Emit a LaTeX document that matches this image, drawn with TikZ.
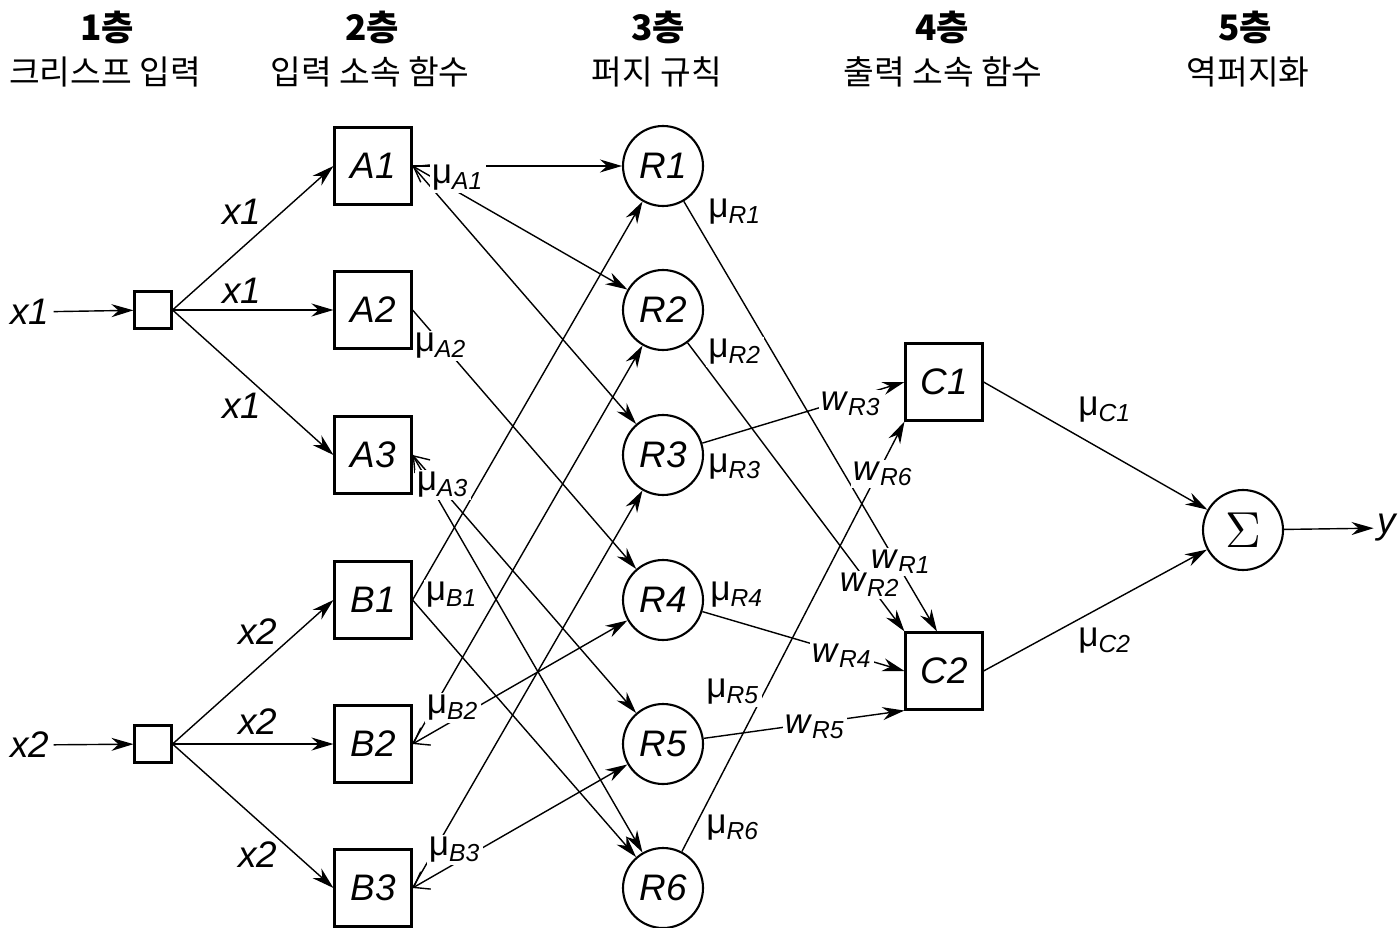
\documentclass[tikz,border=0pt]{standalone}
\usepackage{fontspec}
\setmainfont{Liberation Sans}
\newfontfamily\krfont{Noto Sans CJK KR}
\usetikzlibrary{arrows.meta}

% membership grade and rule weight labels
\newcommand{\memb}[1]{μ\textsubscript{\itshape #1}}
\newcommand{\wgt}[1]{\textit{w}\textsubscript{\itshape #1}}

\begin{document}
\begin{tikzpicture}[
    membox/.style={draw,semithick,minimum size=0.77cm,inner sep=0pt,font=\fontsize{10.5}{12}\selectfont\itshape},
    inbox/.style={draw,semithick,minimum size=0.37cm,inner sep=0pt},
    rulenode/.style={draw,semithick,circle,minimum size=0.80cm,inner sep=0pt,font=\fontsize{10.5}{12}\selectfont\itshape},
    varlabel/.style={inner sep=1pt,font=\fontsize{10.5}{12}\selectfont\itshape},
    mulabel/.style={fill=white,inner sep=0.6pt,font=\fontsize{10}{12}\selectfont},
    layernum/.style={font=\krfont\bfseries\fontsize{10}{12}\selectfont},
    layername/.style={font=\krfont\fontsize{9.5}{11}\selectfont},
    link/.style={thin,-{Stealth[length=2.2mm,width=1.3mm]}},
    blink/.style={thin,{Straight Barb[length=1.4mm,width=2mm]}-{Stealth[length=2.2mm,width=1.3mm]}}
]
    \useasboundingbox (0,0) rectangle (13.98,-9.27);

    % Layer titles
    \node[layernum] (n1) at (1.07,-0.27) {1층};
    \node[layernum] (n2) at (3.72,-0.27) {2층};
    \node[layernum] (n3) at (6.58,-0.27) {3층};
    \node[layernum] (n4) at (9.42,-0.27) {4층};
    \node[layernum] (n5) at (12.45,-0.27) {5층};
    \node[layername] (t1) at (1.05,-0.72) {크리스프 입력};
    \node[layername] (t2) at (3.70,-0.72) {입력 소속 함수};
    \node[layername] (t3) at (6.57,-0.72) {퍼지 규칙};
    \node[layername] (t4) at (9.43,-0.72) {출력 소속 함수};
    \node[layername] (t5) at (12.48,-0.72) {역퍼지화};

    % Layer 1: crisp inputs
    \node[varlabel] (x1) at (0.30,-3.12) {x1};
    \node[varlabel] (x2) at (0.30,-7.45) {x2};
    \node[inbox] (in1) at (1.53,-3.10) {};
    \node[inbox] (in2) at (1.53,-7.44) {};

    % Layer 2: input membership functions
    \node[membox] (A1) at (3.73,-1.66) {A1};
    \node[membox] (A2) at (3.73,-3.10) {A2};
    \node[membox] (A3) at (3.73,-4.55) {A3};
    \node[membox] (B1) at (3.73,-6.00) {B1};
    \node[membox] (B2) at (3.73,-7.44) {B2};
    \node[membox] (B3) at (3.73,-8.88) {B3};

    % Layer 3: fuzzy rules
    \foreach \i/\y in {1/1.66,2/3.10,3/4.55,4/6.00,5/7.44,6/8.88}
        \node[rulenode] (R\i) at (6.63,-\y) {R\i};

    % Layer 4: output membership functions
    \node[membox] (C1) at (9.44,-3.82) {C1};
    \node[membox] (C2) at (9.44,-6.71) {C2};

    % Layer 5: defuzzification
    \node[rulenode,font=\fontsize{15}{18}\selectfont] (sum) at (12.43,-5.30) {$\Sigma$};
    \node[varlabel] (y) at (13.87,-5.28) {y};

    % Inputs to layer 2
    \draw[link] (x1) -- (in1);
    \draw[link] (x2) -- (in2);
    \foreach \n in {A1,A2,A3} \draw[link] (in1.east) -- (\n.west);
    \foreach \n in {B1,B2,B3} \draw[link] (in2.east) -- (\n.west);

    % Layer 2 to rules
    \draw[link] (A1.east) -- (R1);
    \draw[blink] (A1.east) -- (R2);
    \draw[link] (A1.east) -- (R3);
    \draw[link] (A2.east) -- (R4);
    \draw[blink] (A3.east) -- (R5);
    \draw[link] (A3.east) -- (R6);
    \draw[link] (B1.east) -- (R1);
    \draw[link] (B1.east) -- (R6);
    \draw[link] (B2.east) -- (R2);
    \draw[blink] (B2.east) -- (R4);
    \draw[link] (B3.east) -- (R3);
    \draw[blink] (B3.east) -- (R5);

    % Rules to layer 4
    \draw[link] (R1) -- ([xshift=-0.07cm]C2.north);
    \draw[link] (R2) -- (C2.north west);
    \draw[link] (R3) -- (C1.west);
    \draw[link] (R4) -- (C2.west);
    \draw[link] (R5) -- (C2.south west);
    \draw[link] (R6) -- (C1.south west);

    % Layer 4 to output
    \draw[link] (C1.east) -- (sum);
    \draw[link] (C2.east) -- (sum);
    \draw[link] (sum) -- (y);

    % Input labels
    \node[varlabel] (ia1) at (2.42,-2.12) {x1};
    \node[varlabel] (ia2) at (2.42,-2.91) {x1};
    \node[varlabel] (ia3) at (2.42,-4.06) {x1};
    \node[varlabel] (ib1) at (2.58,-6.32) {x2};
    \node[varlabel] (ib2) at (2.58,-7.22) {x2};
    \node[varlabel] (ib3) at (2.58,-8.55) {x2};

    % Membership grades
    \node[mulabel] (mA1) at (4.58,-1.78) {\memb{A1}};
    \node[mulabel] (mA2) at (4.41,-3.46) {\memb{A2}};
    \node[mulabel] (mA3) at (4.43,-4.85) {\memb{A3}};
    \node[mulabel] (mB1) at (4.52,-5.95) {\memb{B1}};
    \node[mulabel] (mB2) at (4.53,-7.08) {\memb{B2}};
    \node[mulabel] (mB3) at (4.55,-8.50) {\memb{B3}};

    % Rule strengths
    \node[mulabel] (mR1) at (7.35,-2.12) {\memb{R1}};
    \node[mulabel] (mR2) at (7.35,-3.52) {\memb{R2}};
    \node[mulabel] (mR3) at (7.35,-4.67) {\memb{R3}};
    \node[mulabel] (mR4) at (7.37,-5.95) {\memb{R4}};
    \node[mulabel] (mR5) at (7.33,-6.92) {\memb{R5}};
    \node[mulabel] (mR6) at (7.33,-8.28) {\memb{R6}};

    % Rule weights
    \node[mulabel] (wR3) at (8.51,-4.04) {\wgt{R3}};
    \node[mulabel] (wR6) at (8.83,-4.74) {\wgt{R6}};
    \node[mulabel] (wR1) at (9.01,-5.62) {\wgt{R1}};
    \node[mulabel] (wR2) at (8.70,-5.85) {\wgt{R2}};
    \node[mulabel] (wR4) at (8.42,-6.56) {\wgt{R4}};
    \node[mulabel] (wR5) at (8.15,-7.27) {\wgt{R5}};

    % Output grades
    \node[mulabel] (mC1) at (11.05,-4.10) {\memb{C1}};
    \node[mulabel] (mC2) at (11.05,-6.41) {\memb{C2}};
\end{tikzpicture}
\end{document}
